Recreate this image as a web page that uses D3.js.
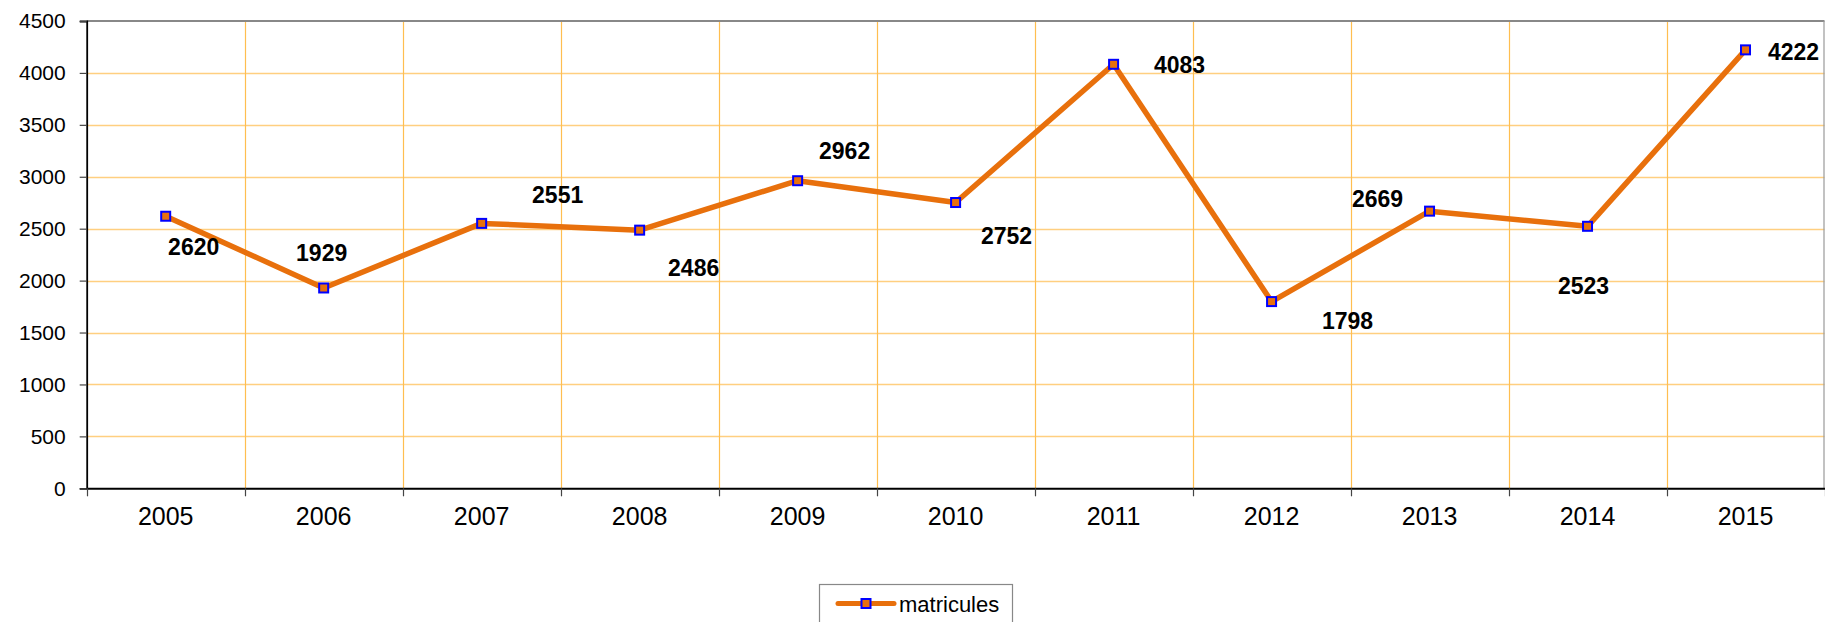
<!DOCTYPE html>
<html>
<head>
<meta charset="utf-8">
<script src="https://cdn.jsdelivr.net/npm/d3@7"></script>
<style>
  html, body { margin: 0; padding: 0; background: #fff; }
  svg { display: block; font-family: "Liberation Sans", Arial, sans-serif; }
</style>
</head>
<body>
<svg id="chart" width="1825" height="622"></svg>
<script>
// ---- data ----
const years = ["2005","2006","2007","2008","2009","2010","2011","2012","2013","2014","2015"];
const matricules = [2620, 1929, 2551, 2486, 2962, 2752, 4083, 1798, 2669, 2523, 4222];
const yTicks = [0, 500, 1000, 1500, 2000, 2500, 3000, 3500, 4000, 4500];
const seriesName = "matricules";
// label offsets (pixels from the point) for the data labels
const labelDx = [28, -2, 76, 54, 47, 51, 66, 76, -52, -4, 48];
const labelDy = [31, -35, -28, 38, -30, 33, 1, 19, -12, 60, 2];

// ---- layout ----
const pLeft = 86.7, pRight = 1824.5, pTop = 21, pBottom = 488.3;
const svg = d3.select("#chart");

const x = d3.scaleBand().domain(years).range([pLeft, pRight]).padding(0);
const y = d3.scaleLinear().domain([0, 4500]).range([pBottom, pTop]);
const cx = d => x(d) + x.bandwidth() / 2;

// horizontal gridlines
svg.append("g").selectAll("line").data(yTicks.filter(t => t > 0 && t < 4500)).join("line")
  .attr("x1", pLeft).attr("x2", pRight)
  .attr("y1", d => Math.round(y(d)) + 0.5).attr("y2", d => Math.round(y(d)) + 0.5)
  .attr("stroke", "#FFCF80").attr("stroke-width", 1.3);

// vertical gridlines at category boundaries
svg.append("g").selectAll("line").data(years.slice(1)).join("line")
  .attr("x1", d => Math.round(x(d)) + 0.5).attr("x2", d => Math.round(x(d)) + 0.5)
  .attr("y1", pTop).attr("y2", pBottom)
  .attr("stroke", "#FFBE50").attr("stroke-width", 1.2);

// top and right border
svg.append("line").attr("x1", pLeft).attr("x2", pRight).attr("y1", pTop).attr("y2", pTop)
  .attr("stroke", "#888").attr("stroke-width", 1.8);
svg.append("line").attr("x1", pRight - 0.5).attr("x2", pRight - 0.5).attr("y1", pTop).attr("y2", pBottom)
  .attr("stroke", "#999").attr("stroke-width", 1.2);

// y axis
const yAxis = svg.append("g").attr("transform", `translate(${pLeft},0)`)
  .call(d3.axisLeft(y).tickValues(yTicks).tickSize(7).tickPadding(14).tickFormat(d3.format("d")));
yAxis.select(".domain").attr("stroke", "#000").attr("stroke-width", 1.8);
yAxis.selectAll(".tick line").attr("stroke", "#444").attr("stroke-width", 1.2);
yAxis.selectAll("text").attr("font-size", 21).attr("fill", "#000")
  .attr("font-family", "Liberation Sans, Arial, sans-serif");

// x axis
const xAxis = svg.append("g").attr("transform", `translate(0,${pBottom})`)
  .call(d3.axisBottom(x).tickSize(0).tickPadding(19));
xAxis.select(".domain").attr("stroke", "#000").attr("stroke-width", 2);
xAxis.selectAll("text").attr("font-size", 25).attr("fill", "#000")
  .attr("font-family", "Liberation Sans, Arial, sans-serif");
// boundary tick marks
const bounds = years.map(d => x(d)).concat([pRight]);
svg.append("g").selectAll("line").data(bounds).join("line")
  .attr("x1", d => Math.round(d) + 0.5).attr("x2", d => Math.round(d) + 0.5)
  .attr("y1", pBottom).attr("y2", pBottom + 8)
  .attr("stroke", "#444").attr("stroke-width", 1.2);

// line
const lineColor = "#E8700C";
svg.append("path").datum(matricules)
  .attr("fill", "none").attr("stroke", lineColor).attr("stroke-width", 5.5)
  .attr("stroke-linejoin", "round")
  .attr("d", d3.line().x((d, i) => cx(years[i])).y(d => y(d)));

// markers
svg.append("g").selectAll("rect").data(matricules).join("rect")
  .attr("x", (d, i) => cx(years[i]) - 4.5).attr("y", d => y(d) - 4.5)
  .attr("width", 9).attr("height", 9)
  .attr("fill", lineColor).attr("stroke", "#0000FF").attr("stroke-width", 2);

// data labels
svg.append("g").selectAll("text").data(matricules).join("text")
  .attr("x", (d, i) => cx(years[i]) + labelDx[i])
  .attr("y", (d, i) => y(d) + labelDy[i])
  .attr("text-anchor", "middle").attr("dominant-baseline", "central")
  .attr("font-size", 23).attr("font-weight", "bold").attr("fill", "#000")
  .text(d => d);

// legend
const lg = svg.append("g");
lg.append("rect").attr("x", 819.5).attr("y", 584.5).attr("width", 193).attr("height", 60)
  .attr("fill", "#fff").attr("stroke", "#888").attr("stroke-width", 1.2);
lg.append("line").attr("x1", 838).attr("x2", 894).attr("y1", 603.5).attr("y2", 603.5)
  .attr("stroke", lineColor).attr("stroke-width", 5).attr("stroke-linecap", "round");
lg.append("rect").attr("x", 861.5).attr("y", 599).attr("width", 9).attr("height", 9)
  .attr("fill", lineColor).attr("stroke", "#0000FF").attr("stroke-width", 2);
lg.append("text").attr("x", 899).attr("y", 604).attr("dominant-baseline", "central")
  .attr("font-size", 22).attr("fill", "#000").text(seriesName);
</script>
</body>
</html>
